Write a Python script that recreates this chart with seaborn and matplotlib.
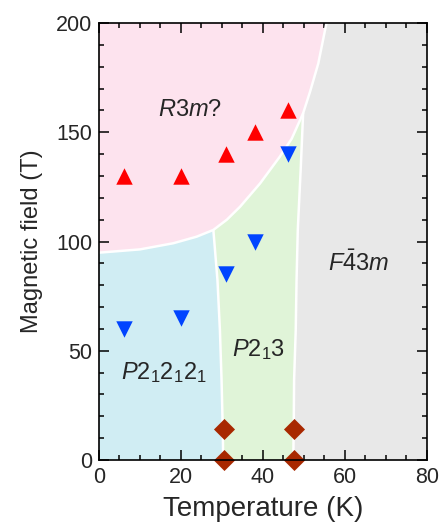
import numpy as np
import pandas as pd
import matplotlib
matplotlib.use("Agg")
import matplotlib.pyplot as plt
import seaborn as sns
from matplotlib.ticker import MultipleLocator

# ---- data ----
up_T = [6, 20, 31, 38, 46]
up_H = [130, 130, 140, 150, 160]
down_T = [6, 20, 31, 38, 46]
down_H = [60, 65, 85, 100, 140]
dia_T = [30.6, 30.6, 47.6, 47.6]
dia_H = [0, 14, 0, 14]

# phase boundaries (K, T)
curve_T = [0, 10, 18.1, 23.8, 27.9, 31.2, 34.4, 39.3, 44.1, 47, 49.8, 51.5, 53.5, 55.5]
curve_H = [94.9, 96.4, 99.2, 102.2, 105.3, 110.0, 115.9, 126.6, 138.8, 147, 158.7, 168.6, 181.5, 200]
bg_T = [30.3, 30.2, 29.9, 29.5, 28.9, 27.9]
bg_H = [0, 13.7, 36.6, 59.5, 82.4, 105.3]
gg_T = [47.4, 47.5, 47.6, 48.0, 48.2, 48.5, 49.2, 49.8]
gg_H = [0, 13.7, 36.6, 59.5, 82.4, 105.3, 132.7, 158.7]

phase_labels = [r"$\mathit{R}3\mathit{m}$?", r"$\mathit{F}\bar{4}3\mathit{m}$",
                r"$\mathit{P}2_12_12_1$", r"$\mathit{P}2_13$"]
phase_T = [22.2, 63.4, 15.9, 38.9]
phase_H = [160, 90, 40, 50.5]

sns.set_style("ticks")
plt.rcParams['font.family'] = ['Liberation Sans', 'DejaVu Sans']
plt.rcParams['mathtext.fontset'] = 'custom'
plt.rcParams['mathtext.rm'] = 'Liberation Sans'
plt.rcParams['mathtext.it'] = 'Liberation Sans:italic'

fig = plt.figure(figsize=(4.41, 5.29), dpi=100)
ax = fig.add_axes([0.2245, 0.1304, 0.968 - 0.2245, 0.9565 - 0.1304])

pink, cyan, green, gray = "#fde3ee", "#d0edf3", "#e0f4d8", "#e8e8e8"
j1, j2 = 4, 10
# pink
ax.fill(curve_T + [0], curve_H + [200], color=pink, lw=0, zorder=0)
# cyan
ax.fill([0] + bg_T + curve_T[j1::-1], [0] + bg_H + curve_H[j1::-1], color=cyan, lw=0, zorder=0)
# green
ax.fill(bg_T + curve_T[j1 + 1:j2 + 1] + gg_T[::-1],
        bg_H + curve_H[j1 + 1:j2 + 1] + gg_H[::-1], color=green, lw=0, zorder=0)
# gray
ax.fill(gg_T + curve_T[j2 + 1:] + [80, 80],
        gg_H + curve_H[j2 + 1:] + [200, 0], color=gray, lw=0, zorder=0)

for xs, ys in [(curve_T, curve_H), (bg_T, bg_H), (gg_T, gg_H)]:
    ax.plot(xs, ys, color="white", lw=1.8, zorder=1, solid_joinstyle="round")

sns.scatterplot(x=up_T, y=up_H, marker="^", s=140, color="#ff0000", linewidth=0, ax=ax, zorder=3, clip_on=False)
sns.scatterplot(x=down_T, y=down_H, marker="v", s=140, color="#0044ff", linewidth=0, ax=ax, zorder=3, clip_on=False)
sns.scatterplot(x=dia_T, y=dia_H, marker="D", s=115, color="#a82800", linewidth=0, ax=ax, zorder=3, clip_on=False)

for lab, tx, ty in zip(phase_labels, phase_T, phase_H):
    ax.text(tx, ty, lab, fontsize=17, ha="center", va="center", zorder=4)

ax.set_xlim(0, 80)
ax.set_ylim(0, 200)
ax.xaxis.set_major_locator(MultipleLocator(20))
ax.xaxis.set_minor_locator(MultipleLocator(5))
ax.yaxis.set_major_locator(MultipleLocator(50))
ax.yaxis.set_minor_locator(MultipleLocator(10))
ax.tick_params(which="both", direction="in", top=True, right=True, width=1.1, color="black", labelsize=15.5)
ax.tick_params(which="major", length=7, pad=5)
ax.tick_params(which="minor", length=3.5)
for sp in ax.spines.values():
    sp.set_visible(True)
    sp.set_linewidth(1.2)
    sp.set_color("black")
    sp.set_zorder(5)
ax.set_xlabel("Temperature (K)", fontsize=20, labelpad=6)
ax.set_ylabel("Magnetic field (T)", fontsize=17, labelpad=9)

fig.savefig("out.png", dpi=100)
